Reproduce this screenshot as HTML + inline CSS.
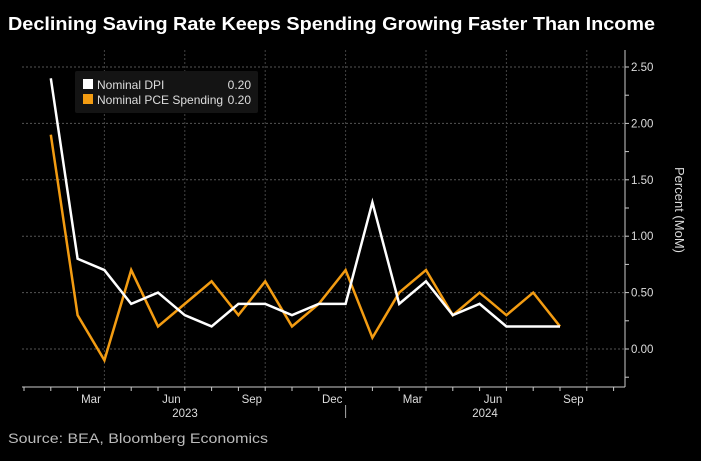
<!DOCTYPE html>
<html><head><meta charset="utf-8"><style>
body{margin:0;background:#000;width:701px;height:456px;overflow:hidden;font-family:"Liberation Sans",sans-serif}
</style></head><body>
<svg width="701" height="456" xmlns="http://www.w3.org/2000/svg" font-family="Liberation Sans, sans-serif">
<text x="8" y="30" fill="#fff" font-size="18" font-weight="bold" textLength="647" lengthAdjust="spacingAndGlyphs">Declining Saving Rate Keeps Spending Growing Faster Than Income</text>
<text x="8" y="443" fill="#bbb" font-size="13.5" textLength="260" lengthAdjust="spacingAndGlyphs">Source: BEA, Bloomberg Economics</text>
<g id="grid"></g>
<g id="axes"></g>
<g id="series"></g>
<g>
<rect x="75" y="71" width="183" height="42" fill="#141414" rx="2"/>
<rect x="83" y="79" width="10" height="10" fill="#fff"/>
<text x="97" y="89" fill="#ddd" font-size="12">Nominal DPI</text>
<text x="251" y="89" fill="#ddd" font-size="12" text-anchor="end">0.20</text>
<rect x="83" y="94" width="10" height="10" fill="#f39c12"/>
<text x="97" y="104" fill="#ddd" font-size="12">Nominal PCE Spending</text>
<text x="251" y="104" fill="#ddd" font-size="12" text-anchor="end">0.20</text>
</g>
<text transform="translate(675,210) rotate(90)" fill="#ddd" font-size="13" text-anchor="middle">Percent (MoM)</text>
</svg>
<script>
const months = ["Jan 23","Feb 23","Mar 23","Apr 23","May 23","Jun 23","Jul 23","Aug 23","Sep 23","Oct 23","Nov 23","Dec 23","Jan 24","Feb 24","Mar 24","Apr 24","May 24","Jun 24","Jul 24","Aug 24"];
const dpi = [2.4,0.8,0.7,0.4,0.5,0.3,0.2,0.4,0.4,0.3,0.4,0.4,1.3,0.4,0.6,0.3,0.4,0.2,0.2,0.2];
const pce = [1.9,0.3,-0.1,0.7,0.2,0.4,0.6,0.3,0.6,0.2,0.4,0.7,0.1,0.5,0.7,0.3,0.5,0.3,0.5,0.2];
const yTicks = [0,0.5,1,1.5,2,2.5];
const yTickLabels = ["0.00","0.50","1.00","1.50","2.00","2.50"];
const monthLabels = ["Mar","Jun","Sep","Dec","Mar","Jun","Sep"];
const yearLabels = ["2023","2024"];

const NS="http://www.w3.org/2000/svg";
const X0=50.8, STEP=26.8, Y0=349, YPER=112.8, LEFT=22, RIGHT=625, AXY=387;
const x = i => X0 + i*STEP;
const y = v => Y0 - v*YPER;
function mk(tag, attrs, parent){const e=document.createElementNS(NS,tag);for(const k in attrs)e.setAttribute(k,attrs[k]);document.getElementById(parent).appendChild(e);return e;}

yTicks.forEach((v,i)=>{
  const g=mk('line',{x1:LEFT,x2:RIGHT,y1:y(v),y2:y(v),stroke:'#555','stroke-dasharray':'2,2'},'grid');
  
  
  const t=mk('text',{x:631,y:y(v)+4,fill:'#ddd','font-size':11.5},'axes');
  t.textContent=yTickLabels[i];
  
  
});
for(let v=-0.25; v<=2.5; v+=0.25){
  mk('line',{x1:RIGHT,x2:RIGHT+4,y1:y(v),y2:y(v),stroke:'#ccc'},'axes');
}
for(let i=-1;i<=21;i++){
  mk('line',{x1:x(i),x2:x(i),y1:AXY,y2:AXY+4,stroke:'#ccc'},'axes');
  if((i-2)%3===0 && i>=2){
    const g=mk('line',{x1:x(i),x2:x(i),y1:50,y2:AXY,stroke:'#444','stroke-dasharray':'2,2'},'grid');
    
    
  }
}
const ax=mk('line',{x1:LEFT,x2:RIGHT,y1:AXY,y2:AXY,stroke:'#ccc'},'axes');


mk('line',{x1:RIGHT,x2:RIGHT,y1:50,y2:AXY,stroke:'#ccc'},'axes');
monthLabels.forEach((m,k)=>{
  const i=1+3*k;
  const t=mk('text',{x:x(i)+STEP/2,y:AXY+16,fill:'#ddd','font-size':11.5,'text-anchor':'middle'},'axes');
  t.textContent=m;
  
  
});
[[yearLabels[0],185],[yearLabels[1],485]].forEach(([l,px])=>{
  const t=mk('text',{x:px,y:AXY+30,fill:'#ddd','font-size':11.5,'text-anchor':'middle'},'axes');
  t.textContent=l;
  
  
});
mk('line',{x1:x(11),x2:x(11),y1:405,y2:418,stroke:'#aaa'},'axes');

function series(vals,color,name){
  const p=mk('polyline',{points:vals.map((v,i)=>x(i)+','+y(v)).join(' '),fill:'none',stroke:color,'stroke-width':2.5,'stroke-linejoin':'miter'},'series');
  
  
}
series(pce,'#f39c12','pce-line');
series(dpi,'#ffffff','dpi-line');
</script>
</body></html>
